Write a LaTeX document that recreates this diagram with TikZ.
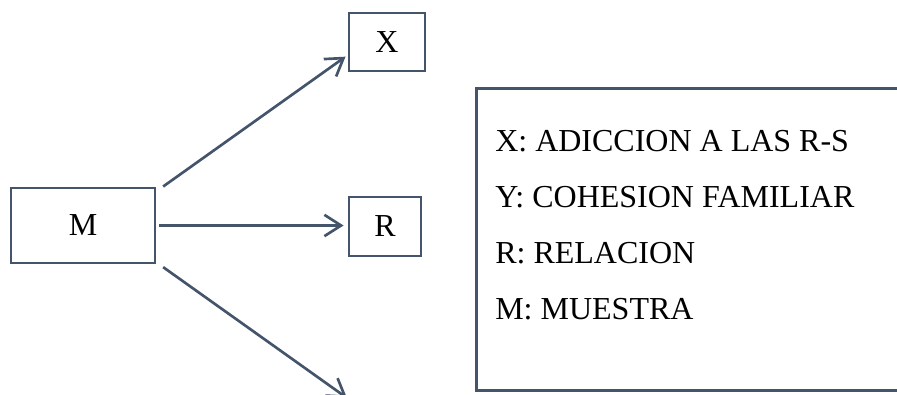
\documentclass[tikz,border=0pt]{standalone}
\usepackage{fontspec}
\setmainfont{Liberation Serif}
\usepackage{xcolor}
\usepackage{tikz}
\usetikzlibrary{arrows.meta, positioning, calc}
\definecolor{boxline}{HTML}{44546A}

\tikzset{
  varbox/.style={draw=boxline, line width=2.2pt, inner sep=0pt,
    font=\fontsize{24}{28}\selectfont},
  legendbox/.style={draw=boxline, line width=2.2pt, inner sep=0pt},
  link/.style={draw=boxline, line width=2pt,
    -{Straight Barb[length=12.5pt,width=16pt]}},
}

\begin{document}
\begin{tikzpicture}[x=.75pt,y=-.75pt]
\useasboundingbox (0,0) rectangle (897,395);
\clip (0,0) rectangle (897,395);
%%
  % Node: M
  \node[varbox, minimum width=108pt, minimum height=56.25pt] (M) at (83,225.5) {M};
  % Node: X
  \node[varbox, minimum width=57pt, minimum height=43.5pt] (X) at (387,42) {X};
  % Node: R
  \node[varbox, minimum width=54pt, minimum height=44.25pt] (R) at (385,226.5) {R};
  % free end of the lower edge (below the page)
  \coordinate (low) at (347,398);
  % Edge: M -- X
  \draw[link] ([xshift=5pt]M.north east) -- ([xshift=-1.5pt,yshift=-11pt]X.west);
  % Edge: M -- R
  \draw[link] ([xshift=2pt]M.east) -- ([xshift=-3pt]M.east -| R.west);
  % Edge: M -- low
  \draw[link] ([xshift=5pt,yshift=-2pt]M.south east) -- (low);
  % Node: legend
  \node[legendbox, anchor=north west, minimum width=345pt, minimum height=226.5pt]
    (legend) at (475,87) {};
  \node[anchor=north west, align=left, inner sep=0pt,
    font=\fontsize{24}{42}\selectfont]
    (legtext) at ($(legend.north west)+(20,43)$)
    {X: ADICCION A LAS R-S\\ Y: COHESION FAMILIAR\\ R: RELACION\\ M: MUESTRA};
%
\end{tikzpicture}
\end{document}
